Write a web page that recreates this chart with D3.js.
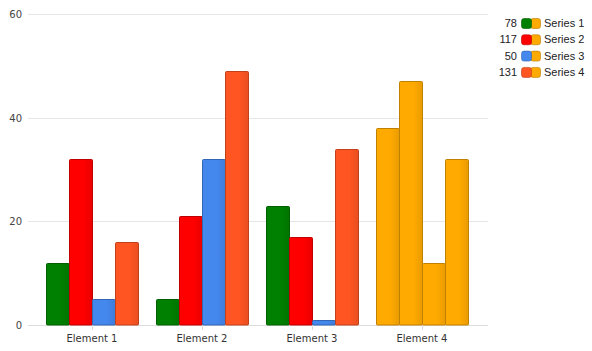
<!DOCTYPE html>
<html>
<head>
<meta charset="utf-8">
<script src="https://cdn.jsdelivr.net/npm/d3@7"></script>
<style>
  body { margin: 0; background: #fff; }
  svg { display: block; }
</style>
</head>
<body>
<div id="chart"></div>
<script>
// Chart data
const categories = ["Element 1", "Element 2", "Element 3", "Element 4"];
const seriesNames = ["Series 1", "Series 2", "Series 3", "Series 4"];
const seriesValues = [
    [12, 5, 23, 38],
    [32, 21, 17, 47],
    [5, 32, 1, 12],
    [16, 49, 34, 32]
];
const yTicks = [0, 20, 40, 60];
const seriesColors = ["#008000", "#ff0000", "#4488ee", "#ff5522"];
const highlightColor = "#ffaa00";
const highlightCategory = "Element 4";

const width = 592, height = 351;

const svg = d3.select("#chart")
    .append("svg")
    .attr("width", width)
    .attr("height", height);

// Scales
const x0 = d3.scaleBand()
    .domain(categories)
    .range([37, 477])
    .paddingInner(18 / 110)
    .paddingOuter(9 / 110);

const x1 = d3.scaleBand()
    .domain(d3.range(seriesNames.length))
    .range([0, x0.bandwidth()]);

const y = d3.scaleLinear()
    .domain([0, 60])
    .range([325, 14]);

// Gradients for bar fills (slightly darker towards the right edge)
const defs = svg.append("defs");
function gradientId(color) {
    const id = "g" + color.replace("#", "");
    if (defs.select("#" + id).empty()) {
        const g = defs.append("linearGradient").attr("id", id)
            .attr("x1", 0).attr("x2", 1).attr("y1", 0).attr("y2", 0);
        g.append("stop").attr("offset", "0%").attr("stop-color", color);
        g.append("stop").attr("offset", "60%").attr("stop-color", color);
        g.append("stop").attr("offset", "100%").attr("stop-color", d3.color(color).darker(0.25));
    }
    return "url(#" + id + ")";
}

// Grid lines
svg.append("g")
    .selectAll("line")
    .data(yTicks)
    .enter()
    .append("line")
    .attr("x1", 28)
    .attr("x2", 488)
    .attr("y1", d => Math.round(y(d)) + 0.5)
    .attr("y2", d => Math.round(y(d)) + 0.5)
    .attr("stroke", d => d === 0 ? "#dcdcdc" : "#e6e6e6");

// Y labels
svg.append("g")
    .selectAll("text")
    .data(yTicks)
    .enter()
    .append("text")
    .attr("x", 22)
    .attr("y", d => y(d) + 4)
    .attr("text-anchor", "end")
    .attr("font-family", "DejaVu Sans")
    .attr("font-size", "10px")
    .attr("fill", "#444")
    .text(d => d);

// X ticks and labels
const xAxis = svg.append("g");
xAxis.selectAll("line")
    .data(categories)
    .enter()
    .append("line")
    .attr("x1", d => Math.round(x0(d) + x0.bandwidth() / 2) + 0.5)
    .attr("x2", d => Math.round(x0(d) + x0.bandwidth() / 2) + 0.5)
    .attr("y1", 325)
    .attr("y2", 330)
    .attr("stroke", "#dcdcdc");

xAxis.selectAll("text")
    .data(categories)
    .enter()
    .append("text")
    .attr("x", d => x0(d) + x0.bandwidth() / 2)
    .attr("y", 342)
    .attr("text-anchor", "middle")
    .attr("font-family", "DejaVu Sans")
    .attr("font-size", "10px")
    .attr("fill", "#333")
    .text(d => d);

// Bars
const groups = svg.append("g")
    .selectAll("g")
    .data(categories)
    .enter()
    .append("g")
    .attr("transform", d => `translate(${x0(d)},0)`);

groups.selectAll("rect")
    .data((c, ci) => seriesValues.map((vals, si) => ({ c, si, value: vals[ci] })))
    .enter()
    .append("rect")
    .attr("x", d => x1(d.si) + 0.5)
    .attr("y", d => Math.round(y(d.value)) + 0.5)
    .attr("width", x1.bandwidth())
    .attr("height", d => y(0) - Math.round(y(d.value)) - 0.5)
    .attr("rx", 1)
    .attr("fill", d => gradientId(d.c === highlightCategory ? highlightColor : seriesColors[d.si]))
    .attr("stroke", d => d3.color(d.c === highlightCategory ? highlightColor : seriesColors[d.si]).darker(0.8))
    .attr("stroke-width", 1);

// Legend
const legend = svg.append("g")
    .selectAll("g")
    .data(seriesNames)
    .enter()
    .append("g")
    .attr("transform", (d, i) => `translate(0,${23 + i * 16.3})`);

legend.append("text")
    .attr("x", 517)
    .attr("y", 4)
    .attr("text-anchor", "end")
    .attr("font-family", "Liberation Sans")
    .attr("font-size", "11px")
    .attr("fill", "#222")
    .text((d, i) => d3.sum(seriesValues[i]));

legend.append("rect")
    .attr("x", 530.5)
    .attr("y", -4.5)
    .attr("width", 10)
    .attr("height", 10)
    .attr("rx", 2.5)
    .attr("fill", highlightColor)
    .attr("stroke", d3.color(highlightColor).darker(0.9))
    .attr("stroke-width", 0.6);

legend.append("rect")
    .attr("x", 521.5)
    .attr("y", -4.5)
    .attr("width", 10)
    .attr("height", 10)
    .attr("rx", 2.5)
    .attr("fill", (d, i) => seriesColors[i])
    .attr("stroke", (d, i) => d3.color(seriesColors[i]).darker(0.9))
    .attr("stroke-width", 0.6);

legend.append("text")
    .attr("x", 544)
    .attr("y", 4)
    .attr("font-family", "Liberation Sans")
    .attr("font-size", "11px")
    .attr("fill", "#222")
    .text(d => d);
</script>
</body>
</html>
